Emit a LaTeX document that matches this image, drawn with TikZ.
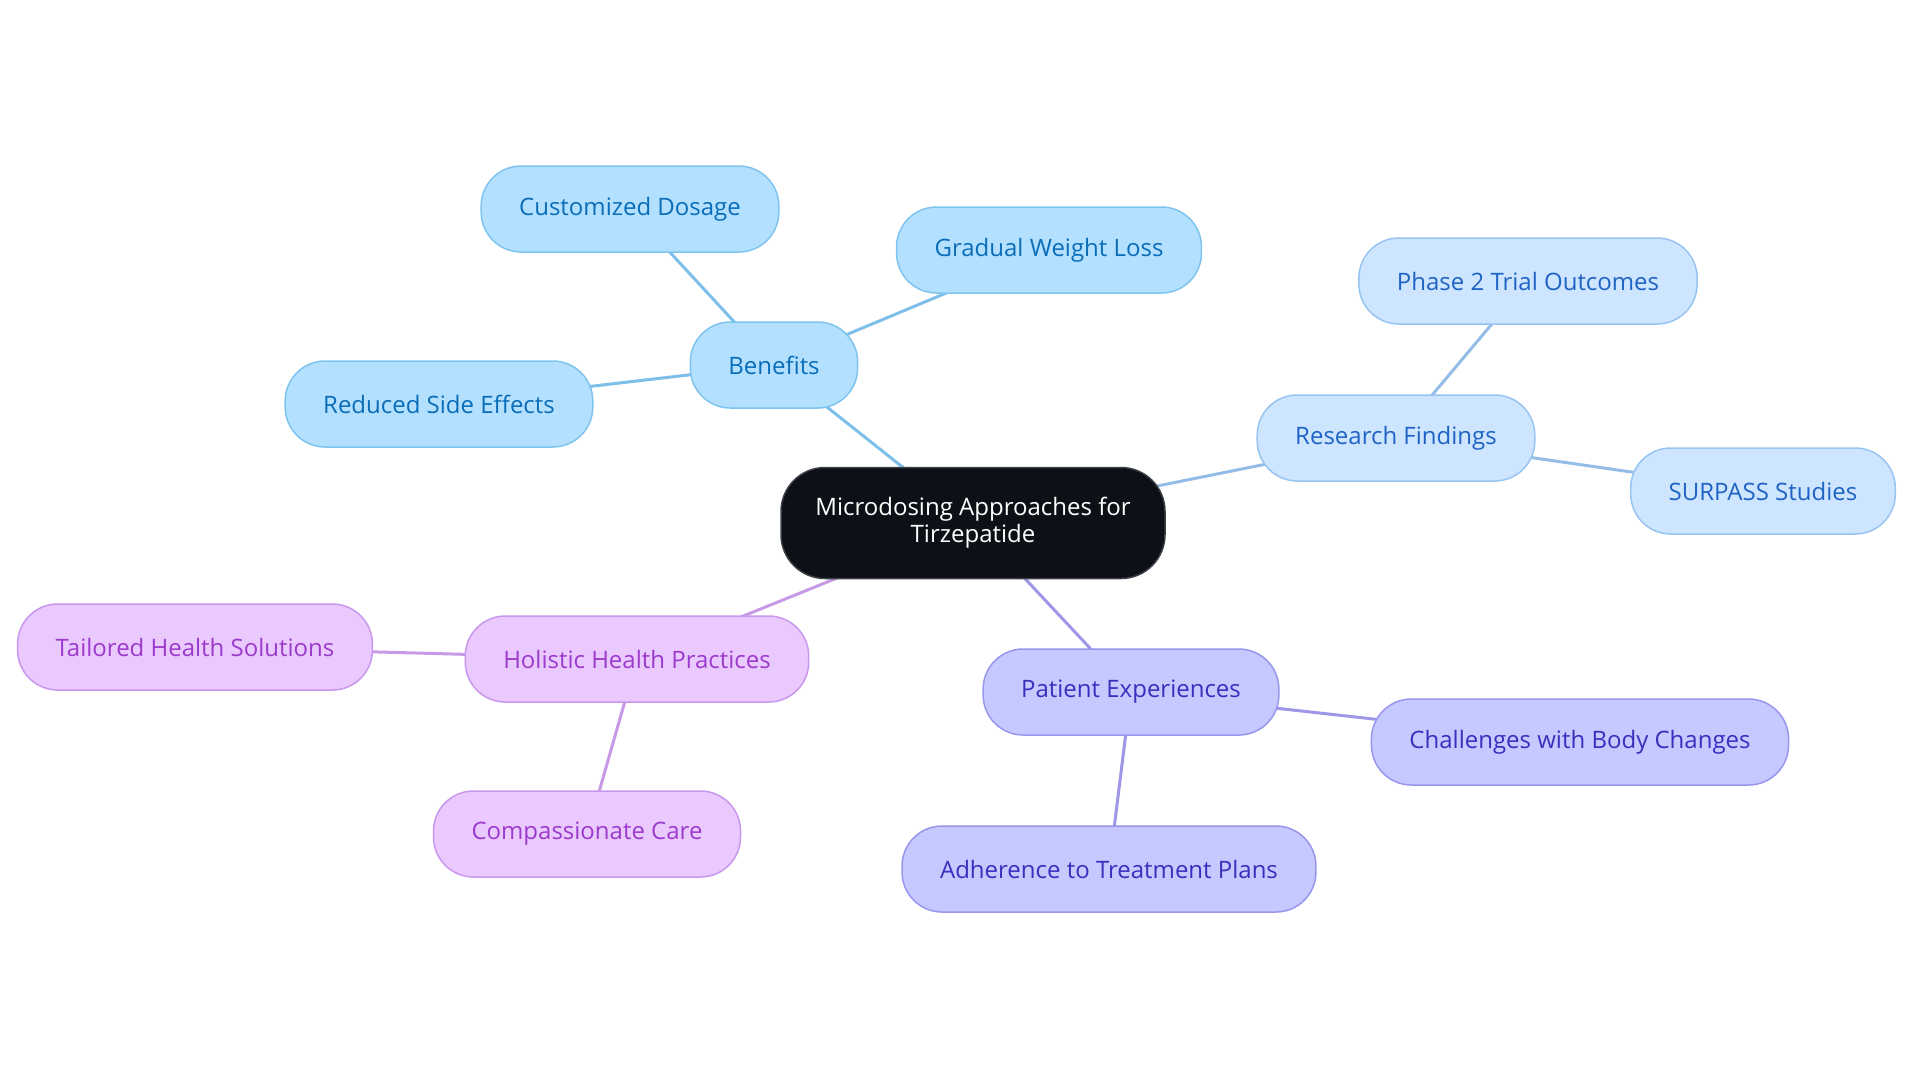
\documentclass[tikz,border=0pt]{standalone}
\usepackage{fontspec}
\setmainfont{Open Sans}
\usetikzlibrary{positioning}
\usetikzlibrary{backgrounds}
\definecolor{rootfill}{HTML}{0D1117}
\definecolor{rootdraw}{HTML}{3A3F45}
\definecolor{bfill}{HTML}{B3E0FF}
\definecolor{bdraw}{HTML}{7FC4EE}
\definecolor{btext}{HTML}{0A6DB8}
\definecolor{bedge}{HTML}{7DBFE8}
\definecolor{rfill}{HTML}{CDE5FF}
\definecolor{rdraw}{HTML}{97C4F0}
\definecolor{rtext}{HTML}{1F63C4}
\definecolor{redge}{HTML}{93BDE6}
\definecolor{pfill}{HTML}{C6C9FF}
\definecolor{pdraw}{HTML}{9896EC}
\definecolor{ptext}{HTML}{3730BE}
\definecolor{pedge}{HTML}{9E96E6}
\definecolor{hfill}{HTML}{EAC9FF}
\definecolor{hdraw}{HTML}{C997EE}
\definecolor{htext}{HTML}{9B3ACB}
\definecolor{hedge}{HTML}{C69AE6}
\tikzset{leaf/.style = {rounded corners=20pt, minimum height=43pt, inner xsep=19pt,
                        line width=0.75pt, font=\fontsize{12}{14}\selectfont}}
\tikzset{root/.style = {rounded corners=22pt, minimum height=55.5pt, minimum width=192pt,
                        line width=0.75pt, draw=rootdraw, fill=rootfill, text=white,
                        align=center, font=\fontsize{12}{13.5}\selectfont}}
\tikzset{bnode/.style = {leaf, draw=bdraw, fill=bfill, text=btext}}
\tikzset{rnode/.style = {leaf, draw=rdraw, fill=rfill, text=rtext}}
\tikzset{pnode/.style = {leaf, draw=pdraw, fill=pfill, text=ptext}}
\tikzset{hnode/.style = {leaf, draw=hdraw, fill=hfill, text=htext}}
\tikzset{link/.style = {line width=1.5pt}}

\begin{document}
\begin{tikzpicture}[x=0.5pt, y=-0.5pt]
        \useasboundingbox (0, 0) rectangle (1920, 1083);

        \node [root] (micro) at (973, 523) {Microdosing Approaches for\\Tirzepatide};

        \node [bnode] (benefits) at (774, 365) {Benefits};
        \node [bnode] (dosage) at (630, 209) {Customized Dosage};
        \node [bnode] (gradual) at (1049, 250) {Gradual Weight Loss};
        \node [bnode] (sidefx) at (439, 404) {Reduced Side Effects};

        \node [rnode] (research) at (1396, 438) {Research Findings};
        \node [rnode] (phase) at (1528, 281) {Phase 2 Trial Outcomes};
        \node [rnode] (surpass) at (1763, 491) {SURPASS Studies};

        \node [pnode] (patient) at (1131, 692) {Patient Experiences};
        \node [pnode] (body) at (1580, 742) {Challenges with Body Changes};
        \node [pnode] (adhere) at (1109, 869) {Adherence to Treatment Plans};

        \node [hnode] (holistic) at (637, 659) {Holistic Health Practices};
        \node [hnode] (tailored) at (195, 647) {Tailored Health Solutions};
        \node [hnode] (care) at (587, 834) {Compassionate Care};

        \begin{scope}[on background layer]
        \draw [link, bedge] (micro.center) -- (benefits.center);
        \draw [link, bedge] (benefits.center) -- (dosage.center);
        \draw [link, bedge] (benefits.center) -- (gradual.center);
        \draw [link, bedge] (benefits.center) -- (sidefx.center);

        \draw [link, redge] (micro.center) -- (research.center);
        \draw [link, redge] (research.center) -- (phase.center);
        \draw [link, redge] (research.center) -- (surpass.center);

        \draw [link, pedge] (micro.center) -- (patient.center);
        \draw [link, pedge] (patient.center) -- (body.center);
        \draw [link, pedge] (patient.center) -- (adhere.center);

        \draw [link, hedge] (micro.center) -- (holistic.center);
        \draw [link, hedge] (holistic.center) -- (tailored.center);
        \draw [link, hedge] (holistic.center) -- (care.center);
        \end{scope}
      \end{tikzpicture}
\end{document}
